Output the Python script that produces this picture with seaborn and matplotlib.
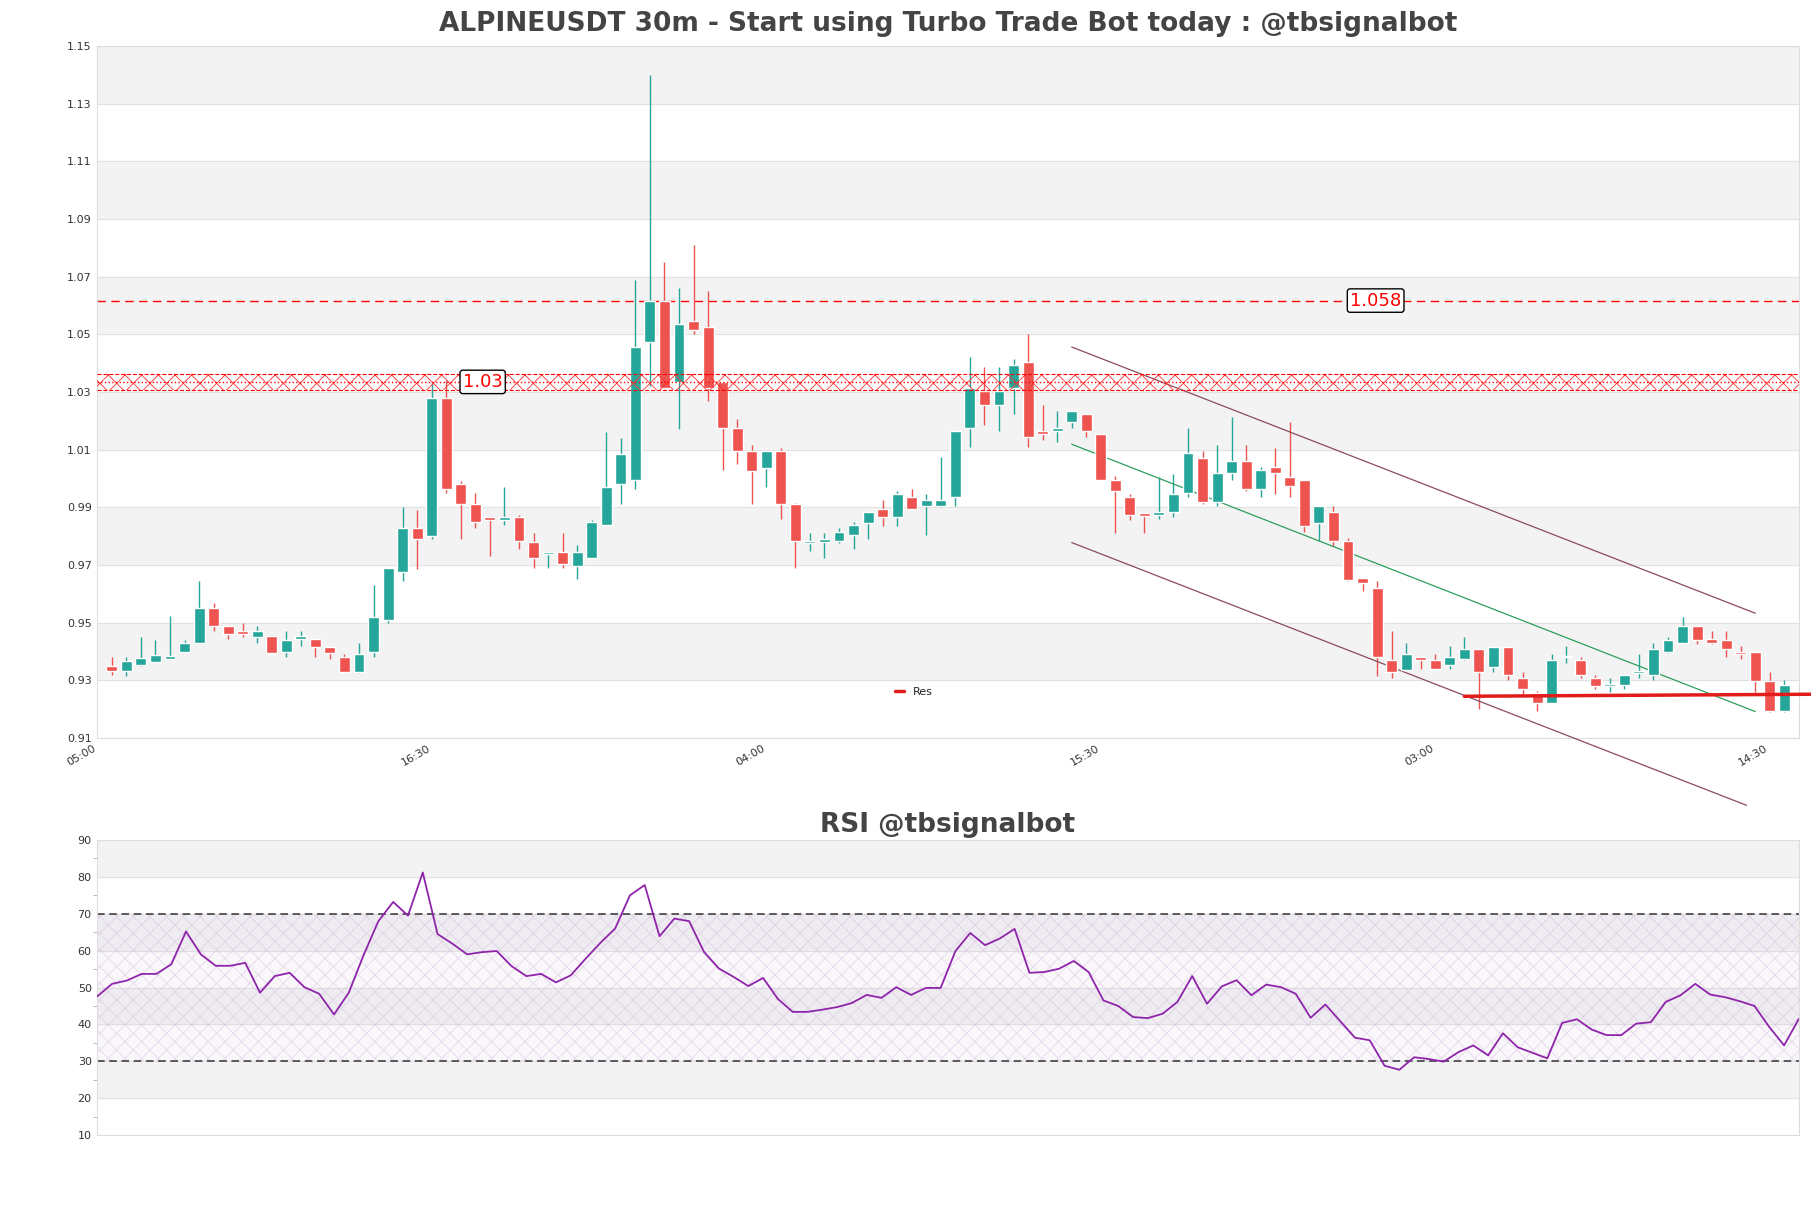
import numpy as np
import pandas as pd
import matplotlib
matplotlib.use("Agg")
import matplotlib.pyplot as plt
import seaborn as sns

# ---- data ----
opens = [0.9350,0.9334,0.9355,0.9363,0.9373,0.940,0.943,0.955,0.949,0.947,0.945,0.9455,0.940,0.9445,0.9445,0.9415,0.938,0.933,0.940,0.951,0.9675,0.983,0.980,1.028,0.998,0.991,
         0.9865,0.9855,0.9865,0.978,0.974,0.9745,0.9695,0.9725,0.984,0.998,0.9995,1.0475,1.0615,1.0335,1.0545,1.0525,1.0335,1.0175,1.0095,1.0035,1.0095,0.991,0.9775,0.978,0.9785,0.9805,0.9845,0.9895,0.9865,0.9935,
         0.9905,0.9905,0.9935,1.0175,1.0305,1.0255,1.0315,1.0405,1.0165,1.0165,1.0195,1.0225,1.0155,0.9995,0.9935,0.988,0.9875,0.9885,0.995,1.007,0.992,1.002,1.006,0.9965,1.004,1.0005,0.9995,0.9845,0.9885,0.9785,
         0.9656,0.962,0.937,0.9335,0.938,0.937,0.9355,0.9375,0.941,0.9345,0.9415,0.931,0.9255,0.922,0.938,0.937,0.931,0.928,0.9285,0.9325,0.932,0.940,0.943,0.949,0.9445,0.944,0.940,0.940,0.9297,0.9195]
highs = [0.938,0.938,0.945,0.944,0.9525,0.944,0.9645,0.957,0.949,0.950,0.949,0.9455,0.947,0.947,0.9445,0.9415,0.939,0.943,0.963,0.969,0.990,0.989,1.033,1.034,0.999,0.995,
         0.9865,0.997,0.9875,0.981,0.9745,0.981,0.977,0.9855,1.016,1.014,1.069,1.140,1.075,1.066,1.081,1.065,1.0335,1.0205,1.0115,1.0095,1.0105,0.9915,0.981,0.981,0.983,0.985,0.9885,0.9925,0.9955,0.9965,
         0.9945,1.0075,1.0165,1.042,1.0385,1.0385,1.0415,1.050,1.0255,1.0235,1.0235,1.0225,1.0155,1.001,0.9945,0.988,1.0005,1.0015,1.0175,1.0095,1.0115,1.0215,1.0115,1.004,1.0105,1.0195,0.9995,0.9905,0.9905,0.9795,
         0.9656,0.9645,0.947,0.943,0.938,0.939,0.942,0.945,0.941,0.9415,0.9415,0.933,0.9265,0.939,0.942,0.938,0.932,0.931,0.932,0.939,0.943,0.945,0.952,0.949,0.947,0.947,0.942,0.940,0.933,0.930]
lows = [0.932,0.9315,0.935,0.9365,0.938,0.940,0.943,0.947,0.9445,0.945,0.943,0.9395,0.938,0.942,0.938,0.9375,0.933,0.9325,0.938,0.950,0.9645,0.9685,0.979,0.995,0.979,0.983,
        0.973,0.984,0.9755,0.969,0.969,0.969,0.965,0.9725,0.984,0.991,0.9965,1.032,1.031,1.017,1.050,1.027,1.003,1.005,0.991,0.997,0.986,0.969,0.975,0.9725,0.9775,0.9755,0.979,0.9835,0.9835,0.9895,
        0.9805,0.990,0.9905,1.011,1.0185,1.0165,1.0225,1.011,1.0135,1.0125,1.0175,1.0145,0.9995,0.981,0.9855,0.981,0.986,0.9865,0.9935,0.991,0.9905,0.9995,0.9955,0.9935,0.9945,0.9935,0.9815,0.9785,0.9765,0.9645,
        0.961,0.9315,0.931,0.9335,0.934,0.934,0.934,0.937,0.920,0.933,0.930,0.9245,0.9195,0.922,0.936,0.931,0.927,0.926,0.927,0.931,0.930,0.9395,0.943,0.9425,0.9425,0.938,0.9375,0.926,0.919,0.919]
closes = [0.9332,0.9366,0.9378,0.9387,0.9385,0.943,0.955,0.949,0.946,0.946,0.947,0.9395,0.944,0.9455,0.9415,0.9395,0.933,0.939,0.952,0.969,0.983,0.979,1.028,0.9965,0.991,0.985,
          0.9855,0.9865,0.9785,0.9725,0.9745,0.9705,0.9745,0.985,0.997,1.0085,1.0455,1.0615,1.0315,1.0535,1.0515,1.0315,1.0175,1.0095,1.0025,1.0095,0.991,0.9785,0.9785,0.979,0.9815,0.984,0.9885,0.9865,0.9945,0.9895,
          0.9925,0.9925,1.0165,1.0315,1.0255,1.0305,1.0395,1.0145,1.0155,1.0175,1.0235,1.0165,0.9995,0.9955,0.9875,0.987,0.9885,0.9945,1.009,0.992,1.002,1.006,0.9965,1.003,1.002,0.9975,0.9835,0.9905,0.9785,0.9647,
          0.9638,0.938,0.933,0.939,0.937,0.934,0.938,0.941,0.933,0.9415,0.932,0.927,0.922,0.937,0.9385,0.932,0.928,0.9285,0.932,0.933,0.941,0.944,0.949,0.944,0.943,0.941,0.939,0.9297,0.9195,0.9285]

rsi = [47.6,51.0,51.9,53.7,53.7,56.3,65.2,59.0,55.9,55.9,56.7,48.6,53.1,54.0,50.1,48.3,42.7,48.6,58.8,68.0,73.2,69.5,81.2,64.5,61.9,59.0,59.6,59.9,55.8,53.1,
       53.7,51.4,53.3,57.8,62.1,66.0,75.0,77.8,63.9,68.7,68.0,59.7,55.2,52.9,50.4,52.6,46.9,43.4,43.4,44.0,44.7,45.8,48.0,47.2,50.1,48.0,49.9,49.9,59.9,64.8,
       61.5,63.3,65.9,54.0,54.2,55.1,57.2,54.2,46.5,45.0,42.0,41.7,42.9,46.1,53.1,45.6,50.3,52.0,47.9,50.8,50.1,48.3,41.8,45.4,40.9,36.4,35.7,28.8,27.7,31.1,
       30.6,29.9,32.5,34.3,31.6,37.6,33.8,32.3,30.8,40.4,41.4,38.6,37.1,37.1,40.2,40.6,46.1,47.9,51.0,48.1,47.4,46.3,45.0,39.3,34.3,41.5]

tick_labels = ["05:00", "16:30", "04:00", "15:30", "03:00", "14:30"]
res_zone = (1.0307, 1.0363)
res_zone_label = "1.03"
res_line = 1.0617
res_line_label = "1.058"
channel_x = [67.0, 114.0]
channel_upper = [1.0456, 0.9533]
channel_mid = [1.0119, 0.9192]
channel_lower_x = [67.0, 113.4]
channel_lower = [0.9778, 0.8867]
support_x = [94.0, 117.8]
support_y = [0.9245, 0.9252]

df = pd.DataFrame({"i": np.arange(1, len(opens) + 1), "o": opens, "h": highs, "l": lows, "c": closes})
rdf = pd.DataFrame({"i": np.arange(len(rsi)), "rsi": rsi})

GREEN, RED = "#26a69a", "#ef5350"
sns.set_style("white")
plt.rcParams["hatch.linewidth"] = 0.6
fig = plt.figure(figsize=(18.11, 12.08), dpi=100)
ax = fig.add_axes([0.0537, 0.389, 0.9396, 0.573])
ax2 = fig.add_axes([0.0537, 0.0604, 0.9396, 0.2442])

# main panel background bands
for y0 in [0.93, 0.97, 1.01, 1.05, 1.09, 1.13]:
    ax.axhspan(y0, y0 + 0.02, color="#f3f3f3", zorder=0)
for y0 in np.arange(0.91, 1.151, 0.02):
    ax.axhline(y0, color="#e2e2e2", lw=0.8, zorder=0.5)

up = df["c"] >= df["o"]
cols = np.where(up, GREEN, RED)
ax.vlines(df["i"], df["l"], df["h"], colors=cols, lw=1, zorder=3)
ax.bar(df["i"], (df["c"] - df["o"]).abs().clip(lower=0.0006), bottom=np.minimum(df["o"], df["c"]),
       width=0.75, color=cols, zorder=4)

# resistance zone (drawn above candles like the reference)
ax.fill_between([0, 117], res_zone[0], res_zone[1], facecolor="none", edgecolor="#ff3030", hatch="xx", lw=0, zorder=5)
ax.hlines([res_zone[0], res_zone[1]], 0, 117, colors="red", lw=0.8, linestyles="--", zorder=5)
ax.axhline(sum(res_zone) / 2, color="red", lw=1, ls=":", zorder=5)
ax.text(26.5, sum(res_zone) / 2, res_zone_label, color="red", fontsize=13, ha="center", va="center", zorder=6,
        bbox=dict(boxstyle="round,pad=0.15", fc="white", ec="black", lw=1))
ax.axhline(res_line, color="red", lw=1, ls=(0, (6, 4)), zorder=2)
ax.text(87.9, res_line, res_line_label, color="red", fontsize=13, ha="center", va="center", zorder=6,
        bbox=dict(boxstyle="round,pad=0.15", fc="white", ec="black", lw=1))

# channel
ax.plot(channel_x, channel_upper, color="#8b4a5f", lw=0.9, zorder=3)
ax.plot(channel_x, channel_mid, color="#2ca05a", lw=0.9, zorder=3)
ax.plot(channel_lower_x, channel_lower, color="#8b4a5f", lw=0.9, zorder=3, clip_on=False)
ax.plot(support_x, support_y, color="#e21b1b", lw=2.5, zorder=5, clip_on=False, label="Res")
ax.legend(loc="lower center", frameon=False, fontsize=8, bbox_to_anchor=(0.48, 0.045), handlelength=0.8)

ax.set_xlim(0, 117)
ax.set_ylim(0.91, 1.15)
ax.set_yticks(np.arange(0.91, 1.151, 0.02))
ax.set_yticklabels([f"{v:.2f}" for v in np.arange(0.91, 1.151, 0.02)], fontsize=8, color="#333")
ax.set_xticks([0, 23, 46, 69, 92, 115])
ax.set_xticklabels(tick_labels, rotation=30, ha="right", fontsize=8, color="#333")
ax.tick_params(length=0, pad=4)
for s in ax.spines.values():
    s.set_color("#dddddd")
ax.set_title("ALPINEUSDT 30m - Start using Turbo Trade Bot today : @tbsignalbot", fontsize=19, fontweight="bold",
             color="#444444", pad=11)

# RSI panel
for y0 in [20, 40, 60, 80]:
    ax2.axhspan(y0, y0 + 10, color="#f3f3f3", zorder=0)
for y0 in range(10, 91, 10):
    ax2.axhline(y0, color="#e2e2e2", lw=0.8, zorder=0.5)
ax2.fill_between([0, 115], 30, 70, facecolor=(0.85, 0.75, 0.9, 0.12), edgecolor=(0.8, 0.7, 0.85, 0.45),
                 hatch="xx", lw=0, zorder=1)
ax2.axhline(70, color="#333", lw=1.1, ls=(0, (5, 3)), zorder=2)
ax2.axhline(30, color="#333", lw=1.1, ls=(0, (5, 3)), zorder=2)
sns.lineplot(data=rdf, x="i", y="rsi", ax=ax2, color="#8e24aa", lw=1.3, zorder=3)
ax2.set_xlim(0, 115)
ax2.set_ylim(10, 90)
ax2.set_yticks(range(10, 91, 10))
ax2.set_yticks(range(15, 90, 10), minor=True)
ax2.set_yticklabels([str(v) for v in range(10, 91, 10)], fontsize=8, color="#333")
ax2.set_xticks([])
ax2.set_xlabel("")
ax2.set_ylabel("")
ax2.tick_params(axis="y", which="major", length=0, pad=4)
ax2.tick_params(axis="y", which="minor", length=3, color="#aaa", left=True)
for s in ax2.spines.values():
    s.set_color("#dddddd")
ax2.set_title("RSI @tbsignalbot", fontsize=19, fontweight="bold", color="#444444", pad=6)

fig.savefig("out.png", dpi=100)
